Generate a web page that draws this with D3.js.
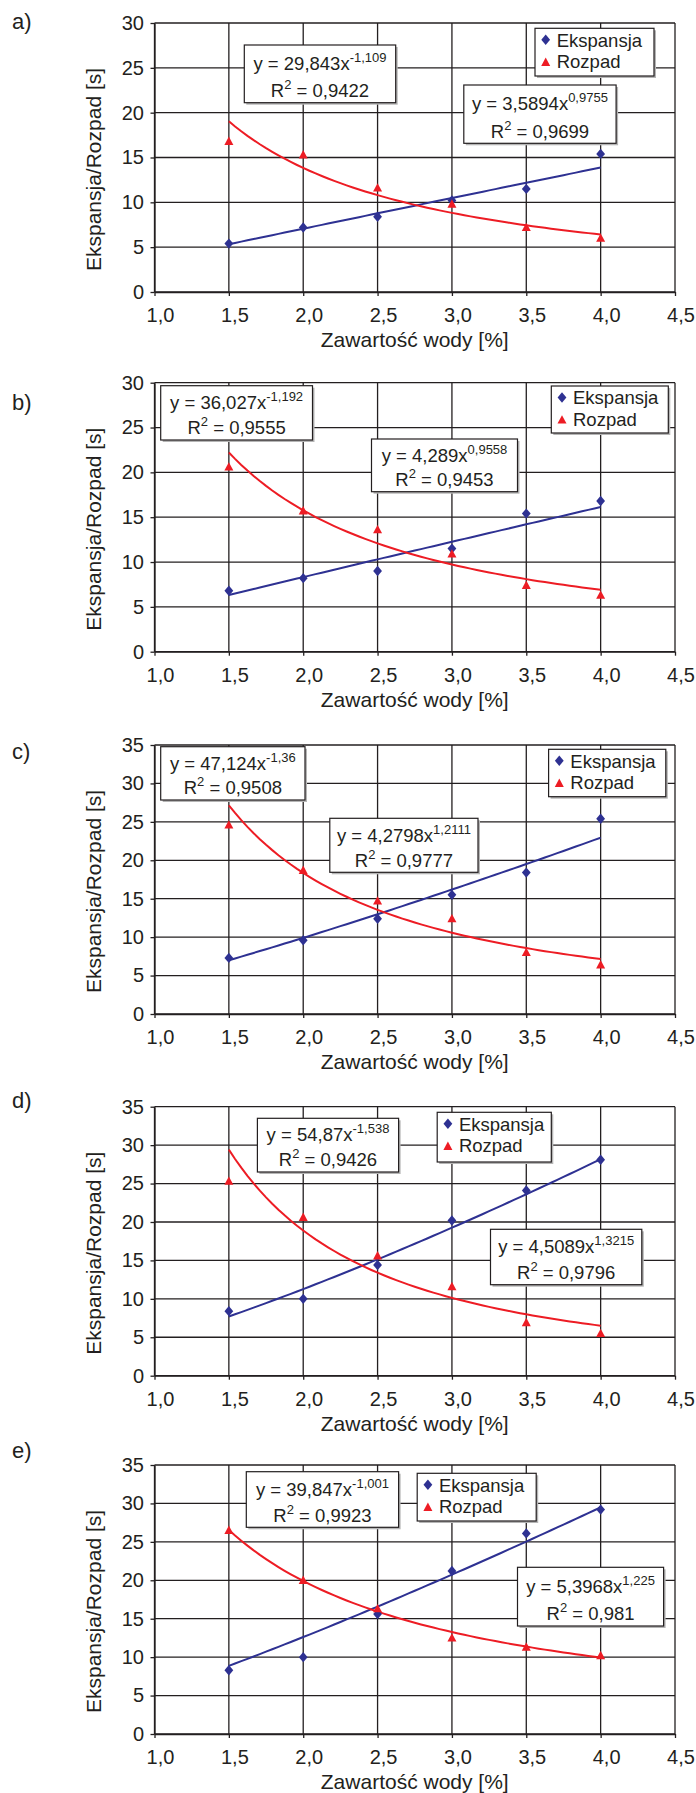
<!DOCTYPE html>
<html>
<head>
<meta charset="utf-8">
<script src="https://cdn.jsdelivr.net/npm/d3@7"></script>
<style>
body { margin: 0; background: #fff; }
text { font-family: "Liberation Sans", Arial, sans-serif; fill: #231f20; }
</style>
</head>
<body>
<div id="chart"></div>
<script>
// water content [%] and the measured times [s]
var xValues = [1.5, 2.0, 2.5, 3.0, 3.5, 4.0];
var xTicks = [1.0, 1.5, 2.0, 2.5, 3.0, 3.5, 4.0, 4.5];
var panelNames = ["a)", "b)", "c)", "d)", "e)"];
var yMaxes = [30, 30, 35, 35, 35];

var ekspansjaA = [5.4, 7.2, 8.4, 10.2, 11.5, 15.4];
var rozpadA    = [16.8, 15.3, 11.6, 9.8, 7.2, 6.0];
var ekspansjaB = [6.8, 8.2, 9.0, 11.5, 15.4, 16.8];
var rozpadB    = [20.6, 15.7, 13.6, 10.9, 7.4, 6.3];
var ekspansjaC = [7.3, 9.6, 12.4, 15.5, 18.4, 25.4];
var rozpadC    = [24.6, 18.7, 14.7, 12.4, 8.0, 6.4];
var ekspansjaD = [8.4, 10.0, 14.4, 20.2, 24.1, 28.1];
var rozpadD    = [25.3, 20.6, 15.6, 11.6, 6.9, 5.5];
var ekspansjaE = [8.3, 10.0, 15.6, 21.2, 26.1, 29.2];
var rozpadE    = [26.5, 20.0, 16.3, 12.5, 11.3, 10.2];

// power trendlines y = a * x^b, with R^2
var ekspansjaFit = [[3.5894, 0.9755, 0.9699], [4.289, 0.9558, 0.9453], [4.2798, 1.2111, 0.9777],
                    [4.5089, 1.3215, 0.9796], [5.3968, 1.225, 0.981]];
var rozpadFit    = [[29.843, -1.109, 0.9422], [36.027, -1.192, 0.9555], [47.124, -1.36, 0.9508],
                    [54.87, -1.538, 0.9426], [39.847, -1.001, 0.9923]];

var ekspansjaAll = [ekspansjaA, ekspansjaB, ekspansjaC, ekspansjaD, ekspansjaE];
var rozpadAll = [rozpadA, rozpadB, rozpadC, rozpadD, rozpadE];

// layout
var w = 696, h = 1793;
var plotLeft = 154.5, plotRight = 675, plotH = 269;
var plotTops = [23, 382.7, 745, 1106.7, 1465];
var labelBase = [29.3, 410, 759.3, 1108, 1458];
// boxes: [x1, y1, x2, y2]
var legendBoxes = [[535, 28.3, 654, 76], [551.3, 386, 668.3, 433], [548.6, 749.3, 665.8, 796.7],
                   [437.2, 1112.3, 551.3, 1162], [417.2, 1473.3, 536.2, 1521]];
var rozpadBoxes = [[244.3, 45, 395.7, 102.7], [160.7, 385.7, 312.5, 440], [160.7, 746.7, 305, 800],
                   [257.4, 1118.3, 398.6, 1172], [246.3, 1471.7, 398.6, 1527.3]];
var ekspansjaBoxes = [[463.8, 85, 616.1, 143.3], [371.5, 439, 517.5, 491.7], [329.8, 818.3, 478, 872.3],
                      [490.5, 1229.3, 641.8, 1284.7], [517.5, 1567.3, 663.6, 1626]];

var blue = "#2e3192", red = "#ed1c24", ink = "#231f20";

var svg = d3.select("#chart").append("svg")
    .attr("width", w)
    .attr("height", h);

var x = d3.scaleLinear().domain([1.0, 4.5]).range([plotLeft, plotRight]);
var fmt = function(v){ return String(v).replace(".", ","); };
var fmtX = function(v){ return d3.format(".1f")(v).replace(".", ","); };

function diamond(cx, cy){
    return "M" + cx + "," + (cy - 5.2) + "L" + (cx + 4.4) + "," + cy + "L" + cx + "," + (cy + 5.2) +
           "L" + (cx - 4.4) + "," + cy + "Z";
}
function triangle(cx, cy){
    return "M" + cx + "," + (cy - 4.8) + "L" + (cx + 4.5) + "," + (cy + 3.6) + "L" + (cx - 4.5) + "," + (cy + 3.6) + "Z";
}

function drawBox(g, b){
    g.append("rect").attr("x", b[0] + 2).attr("y", b[1] + 2)
        .attr("width", b[2] - b[0]).attr("height", b[3] - b[1])
        .attr("fill", "#b5b5b5");
    g.append("rect").attr("x", b[0]).attr("y", b[1])
        .attr("width", b[2] - b[0]).attr("height", b[3] - b[1])
        .attr("fill", "#fff").attr("stroke", ink).attr("stroke-width", 1.2);
}

function drawEquation(g, b, fit){
    drawBox(g, b);
    var cx = (b[0] + b[2]) / 2;
    var hgt = b[3] - b[1];
    var t1 = g.append("text").attr("x", cx).attr("y", b[1] + 0.43 * hgt)
        .attr("text-anchor", "middle").style("font-size", "18.5px");
    t1.append("tspan").text("y = " + fmt(fit[0]) + "x");
    t1.append("tspan").attr("dy", -8).style("font-size", "13px").text(fmt(fit[1]));
    var t2 = g.append("text").attr("x", cx).attr("y", b[3] - 5.8)
        .attr("text-anchor", "middle").style("font-size", "18.5px");
    t2.append("tspan").text("R");
    t2.append("tspan").attr("dy", -8).style("font-size", "13px").text("2");
    t2.append("tspan").attr("dy", 8).text(" = " + fmt(fit[2]));
}

function drawPanel(i){
    var top = plotTops[i], bottom = top + plotH;
    var y = d3.scaleLinear().domain([0, yMaxes[i]]).range([bottom, top]);
    var yTicks = d3.range(0, yMaxes[i] + 1, 5);
    var g = svg.append("g");

    // grid
    g.append("g").selectAll("line").data(yTicks).enter().append("line")
        .attr("x1", plotLeft).attr("x2", plotRight)
        .attr("y1", function(d){ return y(d); }).attr("y2", function(d){ return y(d); })
        .attr("stroke", ink).attr("stroke-width", 1.3);
    g.append("g").selectAll("line").data(xTicks).enter().append("line")
        .attr("x1", function(d){ return x(d); }).attr("x2", function(d){ return x(d); })
        .attr("y1", top).attr("y2", bottom)
        .attr("stroke", ink).attr("stroke-width", 1.3);

    // axes
    var ax = g.append("g").attr("transform", "translate(0," + bottom + ")")
        .call(d3.axisBottom(x).tickValues(xTicks).tickFormat(fmtX).tickSize(4).tickSizeOuter(0).tickPadding(11.8));
    var ay = g.append("g").attr("transform", "translate(" + plotLeft + ",0)")
        .call(d3.axisLeft(y).tickValues(yTicks).tickSize(4).tickSizeOuter(0).tickPadding(6.5));
    [ax, ay].forEach(function(a){
        a.selectAll("path, line").attr("stroke", ink).attr("stroke-width", 1.3);
        a.selectAll("text").style("font-size", "20px").attr("fill", ink)
         .style("font-family", "'Liberation Sans', Arial, sans-serif");
    });
    ax.selectAll("text").attr("dx", 5.5);

    // titles
    g.append("text").attr("x", (plotLeft + plotRight) / 2).attr("y", bottom + 55)
        .attr("text-anchor", "middle").style("font-size", "21px").text("Zawartość wody [%]");
    g.append("text")
        .attr("transform", "translate(101," + ((top + bottom) / 2 + 12) + ") rotate(-90)")
        .attr("text-anchor", "middle").style("font-size", "21px").text("Ekspansja/Rozpad [s]");
    g.append("text").attr("x", 12).attr("y", labelBase[i])
        .style("font-size", "22px").text(panelNames[i]);

    // trendlines
    var xs = d3.range(0, 61).map(function(k){ return 1.5 + k * 2.5 / 60; });
    var line = d3.line().x(function(d){ return x(d[0]); }).y(function(d){ return y(d[1]); });
    [[ekspansjaFit[i], blue], [rozpadFit[i], red]].forEach(function(f){
        var pts = xs.map(function(v){ return [v, f[0][0] * Math.pow(v, f[0][1])]; });
        g.append("path").datum(pts).attr("d", line)
            .attr("fill", "none").attr("stroke", f[1]).attr("stroke-width", 2);
    });

    // points
    g.append("g").selectAll("path").data(ekspansjaAll[i]).enter().append("path")
        .attr("d", function(d, k){ return diamond(x(xValues[k]), y(d)); })
        .attr("fill", blue);
    g.append("g").selectAll("path").data(rozpadAll[i]).enter().append("path")
        .attr("d", function(d, k){ return triangle(x(xValues[k]), y(d)); })
        .attr("fill", red);

    // labels
    drawEquation(g, rozpadBoxes[i], rozpadFit[i]);
    drawEquation(g, ekspansjaBoxes[i], ekspansjaFit[i]);

    var lb = legendBoxes[i];
    drawBox(g, lb);
    g.append("path").attr("d", diamond(lb[0] + 10.7, lb[1] + 11.5)).attr("fill", blue);
    g.append("path").attr("d", triangle(lb[0] + 10.7, lb[1] + 34)).attr("fill", red);
    g.append("text").attr("x", lb[0] + 21.7).attr("y", lb[1] + 18.4)
        .style("font-size", "18.5px").text("Ekspansja");
    g.append("text").attr("x", lb[0] + 21.7).attr("y", lb[1] + 40)
        .style("font-size", "18.5px").text("Rozpad");
}

for (var i = 0; i < panelNames.length; i++) drawPanel(i);
</script>
</body>
</html>
